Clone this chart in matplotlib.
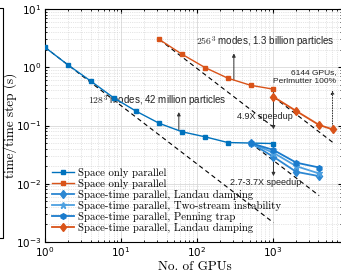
import matplotlib
matplotlib.use('Agg')
import matplotlib.pyplot as plt
from matplotlib.lines import Line2D

plt.rcParams['mathtext.fontset'] = 'cm'
plt.rcParams['axes.unicode_minus'] = False

# data
gpus_128 = [1, 2, 4, 8, 16, 32, 64, 128, 256, 512, 1024]
time_128 = [2.2, 1.1, 0.58, 0.30, 0.175, 0.109, 0.078, 0.064, 0.051, 0.050, 0.049]

gpus_256 = [32, 64, 128, 256, 512, 1024]
time_256 = [3.0, 1.67, 0.99, 0.65, 0.49, 0.42]

gpus_st128 = [512, 1024, 2048, 4096]
time_landau128 = [0.050, 0.029, 0.016, 0.0135]
time_twostream = [0.050, 0.034, 0.020, 0.015]
time_penning = [0.050, 0.038, 0.023, 0.019]

gpus_st256 = [1024, 2048, 4096, 6144]
time_landau256 = [0.31, 0.177, 0.102, 0.086]

legend_labels = ['Space only parallel', 'Space only parallel',
                 'Space-time parallel, Landau damping',
                 'Space-time parallel, Two-stream instability',
                 'Space-time parallel, Penning trap',
                 'Space-time parallel, Landau damping']

blue = '#0072BD'
orange = '#D95319'
serif = 'cmr10'
sans = 'Liberation Sans'

fig = plt.figure(figsize=(3.41, 2.73), dpi=100)
ax = fig.add_axes([45 / 341, 31 / 273, 297 / 341, 233 / 273])

# ideal scaling lines
def ideal(x0, y0, x1):
    ax.plot([x0, x1], [y0, y0 * x0 / x1], '--', color='black', lw=0.8,
            dashes=(4, 3), zorder=2)

ideal(gpus_128[0], time_128[0], 1024)
ideal(gpus_256[0], time_256[0], 1024)
ideal(gpus_st128[0], time_landau128[0], 4096)
ideal(gpus_st256[0], time_landau256[0], 6144)

ax.plot(gpus_128, time_128, '-s', color=blue, ms=3.5, lw=1, label=legend_labels[0], zorder=4)
ax.plot(gpus_256, time_256, '-s', color=orange, ms=3.5, lw=1, label=legend_labels[1], zorder=4)
ax.plot(gpus_st128, time_landau128, '-d', color='#2C87D2', ms=4.5, lw=1.3, label=legend_labels[2], zorder=4)
ax.plot(gpus_st128, time_twostream, '-*', color='#4DA0E0', ms=4.5, lw=1.3, label=legend_labels[3], zorder=4)
ax.plot(gpus_st128, time_penning, '-h', color='#1A7BCC', ms=4, lw=1.3, label=legend_labels[4], zorder=4)
ax.plot(gpus_st256, time_landau256, '-d', color=orange, ms=4.5, lw=1.3, label=legend_labels[5], zorder=4)

ax.set_xscale('log')
ax.set_yscale('log')
ax.set_xlim(1, 8192)
ax.set_ylim(1e-3, 10)
ax.grid(True, which='major', color='#d8d8d8', lw=0.6)
ax.grid(True, which='minor', color='#cccccc', lw=0.5, ls=':')
ax.set_axisbelow(True)
ax.tick_params(which='both', direction='in', top=True, right=True, labelsize=7.5)
ax.tick_params(which='major', length=3, pad=2.5)
ax.tick_params(which='minor', length=1.5)
for s in ax.spines.values():
    s.set_linewidth(0.8)

ax.set_xlabel('No. of GPUs', family=serif, fontsize=9.5)
ax.set_ylabel('time/time step (s)', family=serif, fontsize=9.5)
ax.xaxis.set_label_coords(0.505, -0.105)
ax.xaxis.label.set_va('center')
ax.yaxis.set_label_coords(-0.117, 0.5)
ax.yaxis.label.set_va('center')

# annotations
arrow = dict(arrowstyle='-|>', color='#333333', lw=0.7, mutation_scale=5, shrinkA=0, shrinkB=0)
ax.annotate('', xy=(308, 1.73), xytext=(308, 0.6), arrowprops=arrow)
ax.text(790, 1.95, r'$256^3$ modes, 1.3 billion particles', family=sans, fontsize=7,
        ha='center', va='bottom', color='#222222')
ax.annotate('', xy=(58, 0.17), xytext=(58, 0.083), arrowprops=arrow)
ax.text(30, 0.19, r'$128^3$ modes, 42 million particles', family=sans, fontsize=7,
        ha='center', va='bottom', color='#222222')
ax.annotate('', xy=(1024, 0.086), xytext=(1024, 0.42), arrowprops=arrow)
ax.text(780, 0.145, '4.9X speedup', family=sans, fontsize=6.5, ha='center', va='center',
        color='#222222')
ax.annotate('', xy=(1024, 0.0135), xytext=(1024, 0.049), arrowprops=arrow)
ax.text(800, 0.0105, '2.7-3.7X speedup', family=sans, fontsize=6.5, ha='center', va='center',
        color='#222222')
dotted = dict(arrow, linestyle=':')
ax.annotate('', xy=(6144, 0.4), xytext=(6144, 0.086), arrowprops=dotted)
ax.text(6900, 0.5, '6144 GPUs,\nPerlmutter 100%', family=sans, fontsize=6, ha='right',
        va='bottom', linespacing=1.4, color='#222222')

ax.legend(loc='lower left', bbox_to_anchor=(0.015, 0.03), frameon=False,
          prop={'family': serif, 'size': 7.8}, handlelength=2.1, handletextpad=0.35,
          labelspacing=0.08, borderaxespad=0.0, borderpad=0.2)

# right edge of the neighbouring panel
fig.add_artist(Line2D([0, 3 / 341, 3 / 341, 0], [1 - 8 / 273, 1 - 8 / 273, 1 - 238 / 273, 1 - 238 / 273],
                      color='black', lw=0.8, transform=fig.transFigure))

fig.savefig('out.png', dpi=100)
